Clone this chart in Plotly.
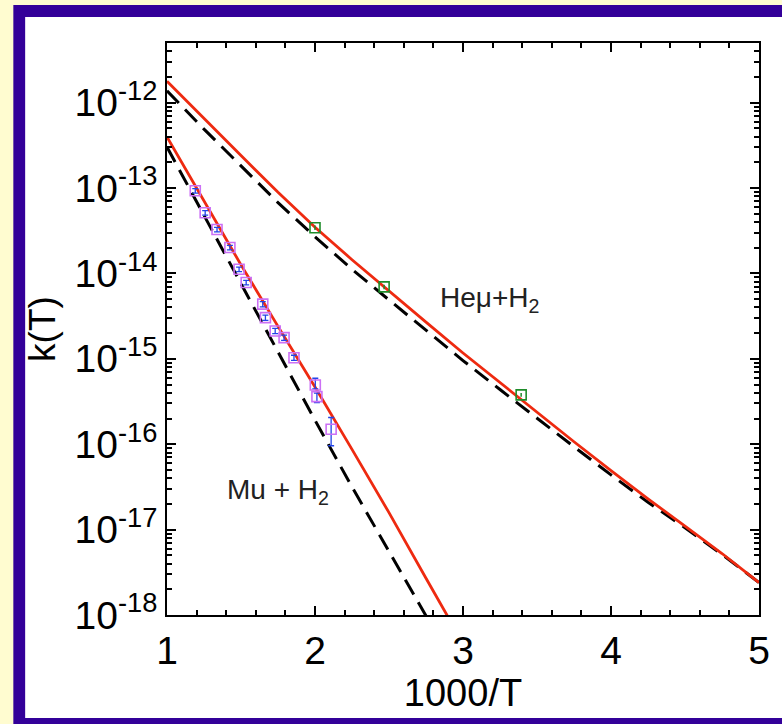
import plotly.graph_objects as go

# ---------------- data ----------------
# He-mu + H2 : theory curves (solid red = fit, dashed black = other)
hemu_x = [1.0, 1.25, 1.5, 1.75, 2.0, 2.25, 2.5, 2.75, 3.0, 3.25, 3.5, 3.75, 4.0, 4.25, 4.5, 4.75, 5.0]
hemu_red = [1.78e-12, 6.46e-13, 2.40e-13, 8.91e-14, 3.47e-14, 1.45e-14, 6.17e-15, 2.69e-15,
            1.17e-15, 5.25e-16, 2.34e-16, 1.07e-16, 4.90e-17, 2.29e-17, 1.10e-17, 5.25e-18, 2.40e-18]
hemu_black = [1.38e-12, 4.90e-13, 1.82e-13, 6.76e-14, 2.69e-14, 1.12e-14, 4.90e-15, 2.14e-15,
              9.55e-16, 4.37e-16, 2.00e-16, 9.33e-17, 4.37e-17, 2.09e-17, 1.05e-17, 5.13e-18, 2.40e-18]

# Mu + H2 : theory curves
mu_x = [1.0, 1.25, 1.5, 1.75, 2.0, 2.25, 2.5, 2.75, 3.0]
mu_red = [3.98e-13, 7.08e-14, 1.26e-14, 2.40e-15, 4.68e-16, 8.71e-17, 1.58e-17, 2.69e-18, 4.68e-19]
mu_black = [3.02e-13, 4.79e-14, 7.59e-15, 1.20e-15, 1.91e-16, 3.16e-17, 5.62e-18, 9.77e-19, 1.58e-19]

# Mu + H2 : experimental points
mu_exp_x = [1.191, 1.258, 1.338, 1.425, 1.487, 1.535, 1.647, 1.665, 1.731, 1.791, 1.858, 2.002, 2.013, 2.109]
mu_exp_k = [9.29e-14, 5.13e-14, 3.27e-14, 2.01e-14, 1.12e-14, 7.83e-15, 4.37e-15, 3.04e-15,
            2.12e-15, 1.77e-15, 1.03e-15, 4.94e-16, 3.61e-16, 1.50e-16]
mu_exp_err_up = [0.06, 0.06, 0.06, 0.06, 0.06, 0.06, 0.07, 0.07, 0.07, 0.07, 0.07, 0.20, 0.10, 0.37]
mu_exp_err_dn = [0.06, 0.06, 0.06, 0.06, 0.06, 0.06, 0.07, 0.07, 0.07, 0.07, 0.07, 0.10, 0.15, 0.36]

# He-mu + H2 : experimental points
hemu_exp_x = [2.000, 2.467, 3.393]
hemu_exp_k = [3.43e-14, 6.97e-15, 3.78e-16]
hemu_exp_err = [0.06, 0.06, 0.05]

# axis ticks
x_ticks = [1, 2, 3, 4, 5]
y_tick_exps = [-18, -17, -16, -15, -14, -13, -12]

# ---------------- figure ----------------
W, H = 782, 724
PL, PR, PT, PB = 167, 768, 43, 615   # plot area in pixels
pw, ph = PR - PL, PB - PT


def px2paper_x(px):
    return (px - PL) / pw


def px2paper_y(py):
    return (PB - py) / ph


RED = "#ee2a10"
PURPLE = "#cc70f5"
BLUE = "#2244e8"
GREEN = "#1e8c2a"

fig = go.Figure()

fig.add_trace(go.Scatter(x=hemu_x, y=hemu_black, mode="lines",
                         line=dict(color="black", width=3, dash="17px,9px"), showlegend=False))
fig.add_trace(go.Scatter(x=mu_x, y=mu_black, mode="lines",
                         line=dict(color="black", width=3, dash="17px,9px"), showlegend=False))
fig.add_trace(go.Scatter(x=hemu_x, y=hemu_red, mode="lines",
                         line=dict(color=RED, width=2.8), showlegend=False))
fig.add_trace(go.Scatter(x=mu_x, y=mu_red, mode="lines",
                         line=dict(color=RED, width=2.8), showlegend=False))

fig.add_trace(go.Scatter(
    x=mu_exp_x, y=mu_exp_k, mode="markers",
    marker=dict(symbol="square-open", size=10, color=PURPLE, line=dict(width=1.6, color=PURPLE)),
    error_y=dict(type="data", symmetric=False,
                 array=[k * e for k, e in zip(mu_exp_k, mu_exp_err_up)],
                 arrayminus=[k * e for k, e in zip(mu_exp_k, mu_exp_err_dn)],
                 color=BLUE, thickness=1.3, width=3),
    showlegend=False))

fig.add_trace(go.Scatter(
    x=hemu_exp_x, y=hemu_exp_k, mode="markers",
    marker=dict(symbol="square-open", size=10, color=GREEN, line=dict(width=1.6, color=GREEN)),
    error_y=dict(type="data", array=[k * e for k, e in zip(hemu_exp_k, hemu_exp_err)],
                 color=GREEN, thickness=1.5, width=0),
    showlegend=False))

FONT = "Liberation Sans, Arial, Helvetica, sans-serif"

fig.update_layout(
    width=W, height=H,
    margin=dict(l=PL, r=W - PR, t=PT, b=H - PB, pad=0),
    paper_bgcolor="#fffcd0",
    plot_bgcolor="white",
    font=dict(family=FONT, color="black"),
    showlegend=False,
    xaxis=dict(
        range=[1, 5], tickvals=x_ticks, ticktext=[str(v) for v in x_ticks],
        ticks="inside", ticklen=9, tickwidth=1.5, tickcolor="black",
        showline=True, linecolor="black", linewidth=1.5, mirror="allticks",
        showgrid=False, zeroline=False,
        tickfont=dict(size=39, family=FONT),
        minor=dict(tickvals=[1 + 0.2 * i for i in range(21)], ticks="inside", ticklen=5,
                   tickwidth=1.5, tickcolor="black", showgrid=False),
        title=dict(text="1000/T", font=dict(size=38, family=FONT), standoff=4),
    ),
    yaxis=dict(
        type="log", range=[-18, -11.301],
        tickvals=[10.0 ** e for e in y_tick_exps],
        ticktext=["10<sup>%d</sup>" % e for e in y_tick_exps],
        ticks="inside", ticklen=9, tickwidth=1.5, tickcolor="black",
        showline=True, linecolor="black", linewidth=1.5, mirror="allticks",
        showgrid=False, zeroline=False,
        tickfont=dict(size=39, family=FONT),
        minor=dict(tickvals=[m * 10.0 ** e for e in range(-18, -11) for m in range(2, 10)],
                   ticks="inside", ticklen=5, tickwidth=1.5, tickcolor="black", showgrid=False),
        title=dict(text="k(T)", font=dict(size=37, family=FONT), standoff=8),
    ),
    shapes=[
        dict(type="rect", xref="paper", yref="paper", layer="below",
             x0=px2paper_x(11), x1=px2paper_x(800), y0=px2paper_y(724 + 20), y1=px2paper_y(5),
             fillcolor="#330099", line=dict(width=0)),
        dict(type="rect", xref="paper", yref="paper", layer="below",
             x0=px2paper_x(23), x1=px2paper_x(800), y0=px2paper_y(718), y1=px2paper_y(17),
             fillcolor="white", line=dict(width=0)),
    ],
    annotations=[
        dict(x=2.83, y=-14.3, xref="x", yref="y", text="Heμ+H<sub>2</sub>", showarrow=False,
             xanchor="left", yanchor="middle", font=dict(size=28, family=FONT, color="#222")),
        dict(x=1.39, y=-16.55, xref="x", yref="y", text="Mu + H<sub>2</sub>", showarrow=False,
             xanchor="left", yanchor="middle", font=dict(size=28, family=FONT, color="#222")),
    ],
)

fig.write_html("out.html")
